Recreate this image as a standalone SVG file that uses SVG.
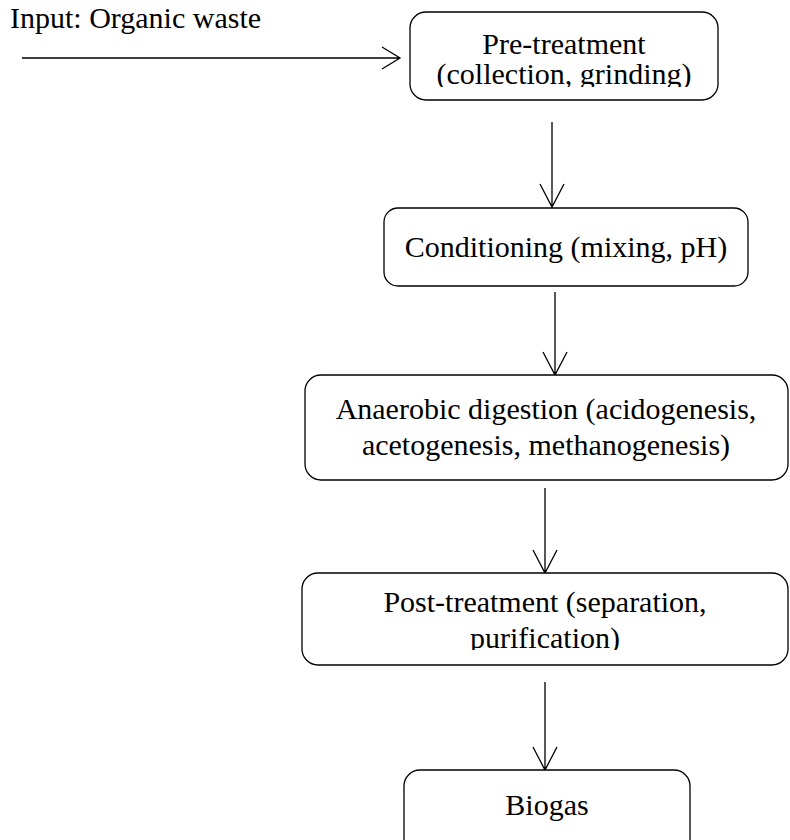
<svg xmlns="http://www.w3.org/2000/svg" width="790" height="840" viewBox="0 0 790 840">
<style>
.box{fill:#fff;stroke:#000;stroke-width:1.3}
.t{font-family:"Liberation Serif","Times New Roman",serif;font-size:30px;fill:#000}
.c{text-anchor:middle}
.ln{stroke:#000;stroke-width:1.3;fill:none}
</style>
<defs>
<clipPath id="clip1"><rect x="410" y="12" width="308" height="75"/></clipPath>
<clipPath id="clip4"><rect x="302" y="573" width="486" height="77"/></clipPath>
</defs>
<g id="connectors">
<path class="ln" d="M22 58H400M382 47L400 58L382 69"/>
<path class="ln" d="M552 122V207M540 184L552 207L564 184"/>
<path class="ln" d="M555 292V375M543 352L555 375L567 352"/>
<path class="ln" d="M545 488V573M533 550L545 573L557 550"/>
<path class="ln" d="M545 682V770M533 747L545 770L557 747"/>
</g>
<g id="input"><text class="t" x="10" y="28">Input: Organic waste</text></g>
<g id="pretreatment">
<rect class="box" x="410" y="12" width="308" height="88" rx="16"/>
<g clip-path="url(#clip1)">
<text class="t c" x="564" y="54">Pre-treatment</text>
<text class="t c" x="564" y="84">(collection, grinding)</text>
</g>
</g>
<g id="conditioning">
<rect class="box" x="384" y="208" width="364" height="78" rx="14"/>
<text class="t c" x="566" y="257">Conditioning (mixing, pH)</text>
</g>
<g id="digestion">
<rect class="box" x="305" y="375" width="483" height="105" rx="16"/>
<text class="t c" x="546" y="419">Anaerobic digestion (acidogenesis,</text>
<text class="t c" x="546" y="455">acetogenesis, methanogenesis)</text>
</g>
<g id="posttreatment">
<rect class="box" x="302" y="573" width="486" height="92" rx="16"/>
<g clip-path="url(#clip4)">
<text class="t c" x="545" y="612">Post-treatment (separation,</text>
<text class="t c" x="545" y="648">purification)</text>
</g>
</g>
<g id="biogas">
<rect class="box" x="404" y="770" width="286" height="90" rx="16"/>
<text class="t c" x="547" y="815">Biogas</text>
</g>
</svg>
